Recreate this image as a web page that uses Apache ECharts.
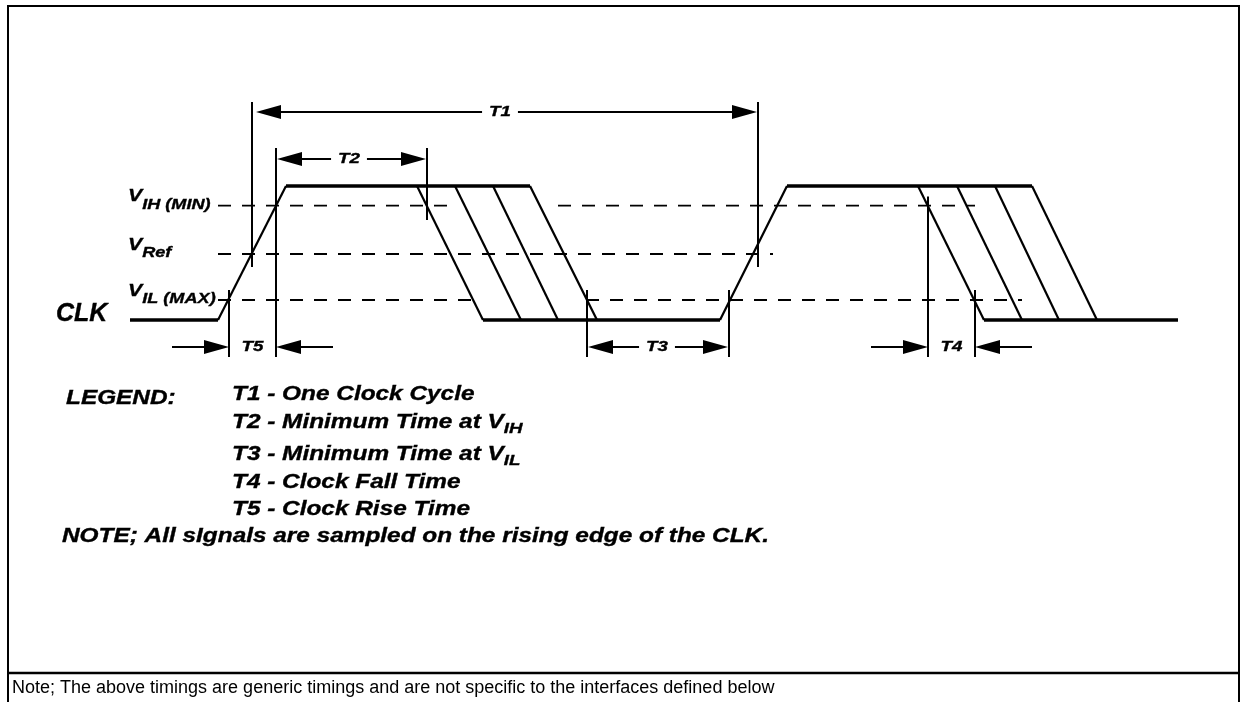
<!DOCTYPE html>
<html><head><meta charset="utf-8">
<script src="https://cdn.jsdelivr.net/npm/echarts@6/dist/echarts.min.js"></script>
<style>html,body{margin:0;padding:0;background:#fff}#c{width:1240px;height:702px}</style>
</head><body><div id="c"></div>
<script>
// ---------------- data ----------------
// t = time in diagram units, v = level in normalised volts (0 = logic low, 1 = logic high)
const LOW = 0, HIGH = 1;
const VIH = 0.854, VREF = 0.4925, VIL = 0.149;

// CLK plateaus: [tStart, tEnd, level]
const plateaus = [[130, 218, LOW], [286, 530, HIGH], [483, 720, LOW], [787, 1032, HIGH], [984, 1178, LOW]];
// CLK edges (incl. fall-time spread): [t0, v0, t1, v1]
const edges = [
  [218, LOW, 286, HIGH],
  [417, HIGH, 483, LOW], [455, HIGH, 521, LOW], [493, HIGH, 558, LOW], [530, HIGH, 597, LOW],
  [720, LOW, 787, HIGH],
  [918, HIGH, 984, LOW], [957, HIGH, 1022, LOW], [995, HIGH, 1059, LOW], [1032, HIGH, 1097, LOW]
];
// reference (dashed) levels: [tStart, tEnd, level]
const refLines = [[218, 447, VIH], [558, 975, VIH], [218, 773, VREF], [218, 476, VIL], [586, 1022, VIL]];
// timing marker verticals: [t, vTop, vBottom]
const markers = [
  [252, 1.627, 0.396], [758, 1.627, 0.396],
  [276, 1.284, -0.276], [427, 1.284, 0.746],
  [229, 0.224, -0.276],
  [587, 0.224, -0.276], [729, 0.224, -0.276],
  [928, 0.9216, -0.276], [975, 0.224, -0.276]
];
// dimension arrows between markers, arrows inside: [tLeft, tRight, level, tLabel, tArrowTipLeft, tArrowTipRight]
const dimsInside = [[252, 758, 1.552, 500, 256, 757], [276, 427, 1.2015, 349, 277, 426], [587, 729, -0.2015, 657, 588, 728]];
const dimsInsideNames = ['T1', 'T2', 'T3'];
// dimension arrows pointing in from outside: [tLeft, tRight, level]
const dimsOutside = [[229, 276, -0.2015], [928, 975, -0.2015]];
const dimsOutsideNames = ['T5', 'T4'];

// level labels
const LABEL_T = 128;
const levelLabelMain = ['V', 'V', 'V'];
const levelLabelSub = ['IH (MIN)', 'Ref', 'IL (MAX)'];
const levelLabelLevels = [VIH, VREF, VIL];
const signalName = 'CLK';
const SIGNAL_T = 56;

const legendTitle = 'LEGEND:';
const legendMain = ['T1 - One Clock Cycle', 'T2 - Minimum Time at V', 'T3 - Minimum Time at V', 'T4 - Clock Fall Time', 'T5 - Clock Rise Time'];
const legendSub = ['', 'IH', 'IL', '', ''];
const noteText = 'NOTE; All sIgnals are sampled on the rising edge of the CLK.';
const footerText = 'Note; The above timings are generic timings and are not specific to the interfaces defined below';

// ---------------- drawing ----------------
const FONT = '"Liberation Sans", Arial, Helvetica, sans-serif';
const S = 1.25; // horizontal stretch of the bold-italic lettering
const mctx = document.createElement('canvas').getContext('2d');
function tw(text, size, weight, style) {
  mctx.font = (style || 'italic') + ' ' + (weight || 'bold') + ' ' + size + 'px ' + FONT;
  return mctx.measureText(text).width;
}
function txt(x, y, text, size, o) {
  o = o || {};
  const bold = (o.weight || 'bold') === 'bold';
  return {
    type: 'text', x: x, y: y, scaleX: o.scaleX != null ? o.scaleX : S, silent: true,
    style: {
      text: text, fill: '#000', fontSize: size, fontWeight: o.weight || 'bold',
      fontStyle: o.style || 'italic', fontFamily: FONT,
      align: o.align || 'left', verticalAlign: o.va || 'middle',
      stroke: bold ? '#000' : null, lineWidth: bold ? 0.35 : 0
    }
  };
}

function segSeries(name, data, style) {
  return {
    type: 'custom', name: name, data: data, silent: true,
    encode: { x: [0, 2], y: [1, 3] },
    renderItem: function (params, api) {
      const a = api.coord([api.value(0), api.value(1)]);
      const b = api.coord([api.value(2), api.value(3)]);
      return { type: 'line', shape: { x1: a[0], y1: a[1], x2: b[0], y2: b[1] }, style: style };
    }
  };
}

const AL = 25, AH = 7, TAIL = 57, LINE_W = 2;
function arrowHead(tipX, y, dir) { // dir: -1 points left, +1 points right
  return {
    type: 'polygon',
    shape: { points: [[tipX, y], [tipX - dir * AL, y - AH], [tipX - dir * AL, y + AH]] },
    style: { fill: '#000' }
  };
}

const series = [
  segSeries('plateaus', plateaus.map(d => [d[0], d[2], d[1], d[2]]), { stroke: '#000', lineWidth: 3.5 }),
  segSeries('edges', edges, { stroke: '#000', lineWidth: 2.2 }),
  segSeries('refs', refLines.map(d => [d[0], d[2], d[1], d[2]]), { stroke: '#000', lineWidth: 1.8, lineDash: [13, 11] }),
  segSeries('markers', markers.map(d => [d[0], d[1], d[0], d[2]]), { stroke: '#000', lineWidth: 2 }),
  {
    type: 'custom', name: 'dimsInside', data: dimsInside, silent: true,
    renderItem: function (params, api) {
      const y = api.coord([api.value(0), api.value(2)])[1];
      const lt = api.coord([api.value(4), api.value(2)])[0];
      const rt = api.coord([api.value(5), api.value(2)])[0];
      const c = api.coord([api.value(3), api.value(2)]);
      const name = dimsInsideNames[params.dataIndex];
      const half = tw(name, 15) * S / 2 + 7;
      const st = { stroke: '#000', lineWidth: LINE_W };
      return {
        type: 'group', children: [
          arrowHead(lt, y, -1), arrowHead(rt, y, 1),
          { type: 'line', shape: { x1: lt + AL - 1, y1: y, x2: c[0] - half, y2: y }, style: st },
          { type: 'line', shape: { x1: c[0] + half, y1: y, x2: rt - AL + 1, y2: y }, style: st },
          txt(c[0] - tw(name, 15) * S / 2, y, name, 15)
        ]
      };
    }
  },
  {
    type: 'custom', name: 'dimsOutside', data: dimsOutside, silent: true,
    renderItem: function (params, api) {
      const l = api.coord([api.value(0), api.value(2)]);
      const r = api.coord([api.value(1), api.value(2)]);
      const name = dimsOutsideNames[params.dataIndex];
      const y = l[1];
      const cx = (l[0] + r[0]) / 2;
      const st = { stroke: '#000', lineWidth: LINE_W };
      return {
        type: 'group', children: [
          arrowHead(l[0], y, 1), arrowHead(r[0], y, -1),
          { type: 'line', shape: { x1: l[0] - TAIL, y1: y, x2: l[0] - AL + 1, y2: y }, style: st },
          { type: 'line', shape: { x1: r[0] + AL - 1, y1: y, x2: r[0] + TAIL, y2: y }, style: st },
          txt(cx - tw(name, 15) * S / 2, y, name, 15)
        ]
      };
    }
  },
  {
    type: 'custom', name: 'levelLabels', silent: true,
    data: levelLabelLevels.map(v => [LABEL_T, v]),
    renderItem: function (params, api) {
      const p = api.coord([api.value(0), api.value(1)]);
      const i = params.dataIndex;
      const wv = tw(levelLabelMain[i], 17) * S;
      return {
        type: 'group', children: [
          txt(p[0], p[1] - 9, levelLabelMain[i], 17),
          txt(p[0] + wv, p[1] - 1, levelLabelSub[i], 14.5)
        ]
      };
    }
  },
  {
    type: 'custom', name: 'signal', silent: true,
    data: [[SIGNAL_T, LOW]],
    renderItem: function (params, api) {
      const p = api.coord([api.value(0), api.value(1)]);
      return txt(p[0], p[1] - 6, signalName, 25, { scaleX: 1 });
    }
  }
];

// layout text: legend, note, footer, frame
const LS = 19.5;
const graphic = [];
graphic.push({ type: 'polyline', silent: true, shape: { points: [[8, 702], [8, 6], [1239, 6], [1239, 702]] }, style: { stroke: '#000', lineWidth: 2, fill: null } });
graphic.push({ type: 'line', silent: true, shape: { x1: 8, y1: 673, x2: 1239, y2: 673 }, style: { stroke: '#000', lineWidth: 2.5 } });
graphic.push(txt(66, 399, legendTitle, LS));
const legendY = [395, 423, 455, 483, 510];
legendMain.forEach((t, i) => {
  graphic.push(txt(232, legendY[i], t, LS));
  if (legendSub[i]) graphic.push(txt(232 + tw(t, LS) * S, legendY[i] + 6, legendSub[i], 15));
});
graphic.push(txt(62, 537, noteText, LS));
graphic.push(txt(12, 688, footerText, 18, { weight: 'normal', style: 'normal', scaleX: 1.0 }));

const chart = echarts.init(document.getElementById('c'), null, { renderer: 'canvas', width: 1240, height: 702 });
chart.setOption({
  animation: false,
  backgroundColor: '#fff',
  grid: { left: 0, right: 0, top: 0, bottom: 0 },
  xAxis: { type: 'value', min: 0, max: 1240, show: false },
  yAxis: { type: 'value', min: -2.851, max: 2.388, show: false },
  series: series,
  graphic: graphic
});
</script></body></html>
